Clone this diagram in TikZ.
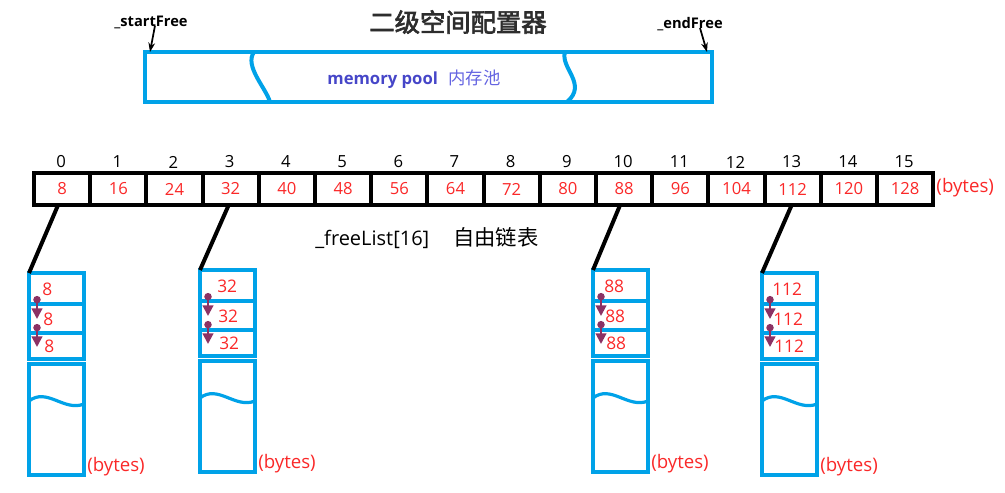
\documentclass[tikz,border=0pt]{standalone}
\usepackage{fontspec}
\setmainfont{Open Sans}
\newfontfamily\cjk[AutoFakeBold=2.5]{Noto Sans CJK SC}
\usetikzlibrary{arrows.meta,calc}
\definecolor{pblue}{RGB}{0,162,232}
\definecolor{pred}{RGB}{250,40,40}
\definecolor{ppurple}{RGB}{140,50,100}
\definecolor{ptext}{RGB}{70,70,200}
\definecolor{ptextl}{RGB}{100,100,225}
\definecolor{ptitle}{RGB}{45,45,45}
\newcommand\fsz[1]{\fontsize{#1}{#1}\selectfont}
\newcommand\mkbox[5]{%
  \node[prow, minimum height=23.25pt] (#1a) at ({#2+27.5},{#3+15.5}) {};
  \node[prow, minimum height=21.75pt] (#1b) at ({#2+27.5},{#3+45.5}) {};
  \node[prow, minimum height=19.5pt]  (#1c) at ({#2+27.5},{#3+73}) {};
  \node[prow, minimum height=83.25pt] (#1d) at ({#2+27.5},{#3+146.5}) {};
  \node[rlab] (#1la) at ($(#1a.west)+(#5,1)$) {#4};
  \node[rlab] (#1lb) at ($(#1b.west)+(#5+1,1)$) {#4};
  \node[rlab] (#1lc) at ($(#1c.west)+(#5+2,0)$) {#4};
  \draw[parrow] ($(#1a.north west)+(8,23)$) -- ($(#1a.north west)+(8,46)$);
  \draw[parrow] ($(#1a.north west)+(8,51)$) -- ($(#1a.north west)+(8,74)$);
  \draw[pline] ($(#1d.north west)+(0,37)$) .. controls +(18,-14) and +(-20,8) .. ($(#1d.north east)+(0,40)$);
  \node[blab] (#1by) at ($(#1d.south east)+(3,-8)$) {(bytes)};
}
\begin{document}
\begin{tikzpicture}[x=0.75pt,y=-0.75pt,
  cell/.style={draw=black, line width=3pt, minimum width=42.15pt, minimum height=24pt,
    inner sep=0pt, outer sep=0pt, text=pred, font=\fsz{12.5pt}},
  idx/.style={text=black, font=\fsz{12.5pt}, inner sep=0pt},
  prow/.style={draw=pblue, line width=2.4pt, minimum width=41.25pt, inner sep=0pt, outer sep=0pt},
  pline/.style={draw=pblue, line width=2.4pt},
  rlab/.style={text=pred, font=\fsz{13pt}, inner sep=0pt, anchor=west},
  blab/.style={text=pred, font=\fsz{14pt}, inner sep=0pt, anchor=west},
  parrow/.style={draw=ppurple, line width=1.6pt, {Circle[length=5.5pt]}-{Triangle[width=8pt,length=8pt]}},
  conn/.style={draw=black, line width=3pt},
  farrow/.style={draw=black, line width=1.3pt, -{Stealth[length=7pt,width=5pt]}}
]
\useasboundingbox (0,0) rectangle (1005,492);

% title
\node[text=ptitle, inner sep=0pt] (title) at (458,22) {\cjk\fsz{19pt}\bfseries 二级空间配置器};

% memory pool
\node[draw=pblue, line width=3pt, minimum width=425.25pt, minimum height=37.5pt, inner sep=0pt, outer sep=0pt] (pool) at (428.5,77) {};
\draw[pline, line width=3pt] (254,52) .. controls (244,66) and (266,88) .. (270,102);
\draw[pline, line width=3pt] (565,52) .. controls (560,68) and (588,84) .. (567,102);
\node[inner sep=0pt] (pooltxt) at (414,79) {\fsz{12.5pt}\textcolor{ptext}{\bfseries memory pool}\hspace{8pt}\textcolor{ptextl}{\cjk\fsz{13pt}内存池}};

\node[inner sep=0pt, font=\fsz{11pt}\bfseries] (sf) at (151,22) {\_startFree};
\node[inner sep=0pt, font=\fsz{11pt}\bfseries] (ef) at (690,24) {\_endFree};
\draw[farrow] ($(sf.south)+(4,-3)$) -- ($(pool.north west)+(5,0)$);
\draw[farrow] ($(ef.south)+(10,-3)$) -- ($(pool.north east)+(-5,0)$);

% free list array
\foreach \v [count=\i from 0] in {8,16,24,32,40,48,56,64,72,80,88,96,104,112,120,128} {
  \node[cell] (c\i) at ({34+56.2*(\i+0.5)},189) {\v};
  \node[idx] (n\i) at ({33+56.2*(\i+0.5)},162) {\i};
}
\node[blab] (arrby) at ($(c15.east)+(3,-1)$) {(bytes)};

\node[inner sep=0pt, anchor=west] (fl) at (315,238) {\fsz{15pt}\_freeList[16]\hspace{18pt}\cjk\fsz{16pt}自由链表};

% chunk boxes
\mkbox{ba}{29}{273}{8}{13}
\mkbox{bb}{200}{270}{32}{17}
\mkbox{bc}{593}{270}{88}{11}
\mkbox{bd}{762}{273}{112}{10}

% connectors
\draw[conn] ($(c0.south)+(-4,0)$) -- (baa.north west);
\draw[conn] ($(c3.south)+(-2,0)$) -- (bba.north west);
\draw[conn] ($(c10.south)+(-4,0)$) -- (bca.north west);
\draw[conn] ($(c13.south)+(-1,0)$) -- (bda.north west);
\end{tikzpicture}
\end{document}
